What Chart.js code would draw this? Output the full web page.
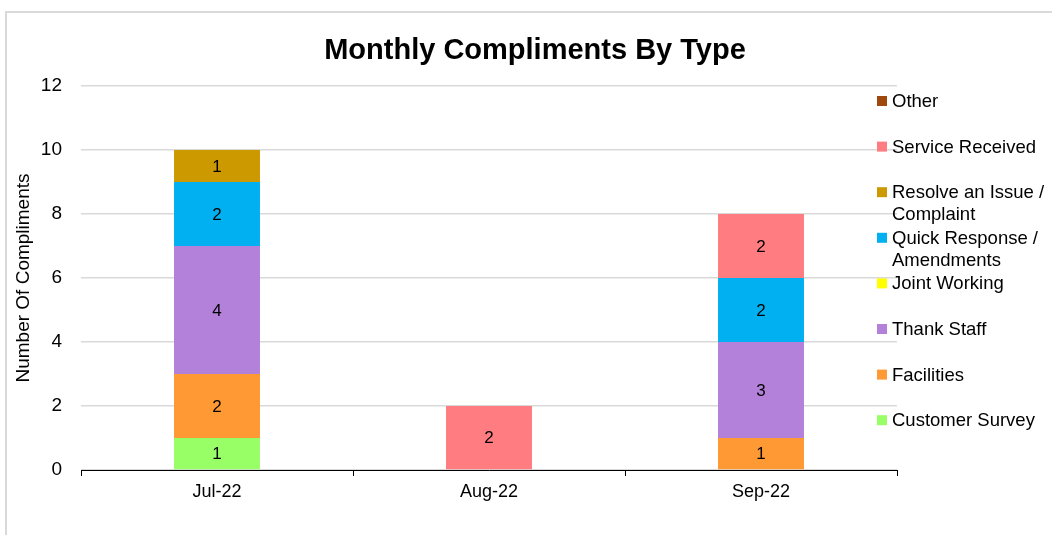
<!DOCTYPE html>
<html>
<head>
<meta charset="utf-8">
<title>Monthly Compliments By Type</title>
<script src="https://cdn.jsdelivr.net/npm/chart.js@4"></script>
<style>
  html, body { margin: 0; padding: 0; background: #fff; overflow: hidden; }
  #frame { position: absolute; left: 5px; top: 11px; width: 1100px; height: 600px; border: 2px solid #d9d9d9; }
  #wrap { position: absolute; left: 0; top: 0; width: 1052px; height: 535px; }
</style>
</head>
<body>
<div id="frame"></div>
<div id="wrap"><canvas id="myChart"></canvas></div>
<script>
// months on the x axis
const months = ["Jul-22", "Aug-22", "Sep-22"];

// one array per compliment type (bottom of the stack first)
const customerSurvey = [1, 0, 0];
const facilities     = [2, 0, 1];
const thankStaff     = [4, 0, 3];
const jointWorking   = [0, 0, 0];
const quickResponse  = [2, 0, 2];
const resolveIssue   = [1, 0, 0];
const serviceRecvd   = [0, 2, 2];
const other          = [0, 0, 0];

const seriesNames = ["Customer Survey", "Facilities", "Thank Staff", "Joint Working",
  "Quick Response / Amendments", "Resolve an Issue / Complaint", "Service Received", "Other"];
const seriesValues = [customerSurvey, facilities, thankStaff, jointWorking,
  quickResponse, resolveIssue, serviceRecvd, other];
const seriesColors = ["#99FF66", "#FF9933", "#B381D9", "#FFFF00",
  "#00B0F0", "#CC9900", "#FF7C80", "#9E480E"];

const yTicks = [0, 2, 4, 6, 8, 10, 12];
const chartTitle = "Monthly Compliments By Type";

const FONT = "'Liberation Sans', Arial, sans-serif";

// title centred on the whole canvas (not just the plot)
const wideTitle = {
  id: "wideTitle",
  afterDraw(chart) {
    const ctx = chart.ctx;
    ctx.save();
    ctx.font = "bold 29px " + FONT;
    ctx.fillStyle = "#000";
    ctx.textAlign = "center";
    ctx.textBaseline = "middle";
    ctx.fillText(chartTitle, 535, 51);
    ctx.restore();
  }
};

// values written in the middle of each segment
const valueLabels = {
  id: "valueLabels",
  afterDatasetsDraw(chart) {
    const ctx = chart.ctx;
    ctx.save();
    ctx.font = "17px " + FONT;
    ctx.fillStyle = "#000";
    ctx.textAlign = "center";
    ctx.textBaseline = "middle";
    chart.data.datasets.forEach((ds, i) => {
      const meta = chart.getDatasetMeta(i);
      meta.data.forEach((bar, j) => {
        const v = ds.data[j];
        if (!v) return;
        const p = bar.getProps(["x", "y", "base"], true);
        ctx.fillText(v, p.x, (p.y + p.base) / 2 + 1);
      });
    });
    ctx.restore();
  }
};

// legend on the right, top item = last series, long names wrapped
const sideLegend = {
  id: "sideLegend",
  afterDraw(chart) {
    const ctx = chart.ctx;
    ctx.save();
    ctx.font = "18.5px " + FONT;
    ctx.textBaseline = "middle";
    ctx.textAlign = "left";
    const n = chart.data.datasets.length;
    let y = 102;
    for (let k = n - 1; k >= 0; k--) {
      const ds = chart.data.datasets[k];
      ctx.fillStyle = ds.backgroundColor;
      ctx.fillRect(877, y - 6, 10, 10);
      ctx.fillStyle = "#000";
      const parts = ds.label.split("/ ");
      if (parts.length > 1) {
        ctx.fillText(parts[0] + "/", 892, y);
        ctx.fillText(parts[1], 892, y + 22);
      } else {
        ctx.fillText(ds.label, 892, y);
      }
      y += 45.6;
    }
    ctx.restore();
  }
};

const chart = new Chart(document.getElementById("myChart"), {
  type: "bar",
  data: {
    labels: months,
    datasets: seriesNames.map((name, i) => ({
      label: name,
      data: seriesValues[i],
      backgroundColor: seriesColors[i],
      borderWidth: 0,
      categoryPercentage: 1,
      barPercentage: 0.316
    }))
  },
  options: {
    responsive: true,
    maintainAspectRatio: false,
    animation: false,
    events: [],
    layout: { padding: { top: 86, right: 155, bottom: 0, left: 0 } },
    plugins: {
      legend: { display: false },
      tooltip: { enabled: false },
      title: { display: false }
    },
    scales: {
      x: {
        stacked: true,
        afterFit(scale) { scale.height = 65; },
        border: { display: true, color: "#000", width: 1 },
        grid: { display: true, drawOnChartArea: false, drawTicks: true, tickLength: 6, color: "#000", offset: true },
        ticks: { color: "#000", font: { family: FONT, size: 18 }, padding: 5 }
      },
      y: {
        stacked: true,
        min: 0,
        max: 12,
        afterFit(scale) { scale.width = 81; },
        afterBuildTicks(scale) { scale.ticks = yTicks.map(v => ({ value: v })); },
        border: { display: false },
        grid: { color: "#d9d9d9", lineWidth: 1.5, drawTicks: false },
        ticks: { color: "#000", font: { family: FONT, size: 19 }, padding: 19 },
        title: {
          display: true,
          text: "Number Of Compliments",
          color: "#000",
          font: { family: FONT, size: 19 },
          padding: { top: 12, bottom: 0 }
        }
      }
    }
  },
  plugins: [valueLabels, sideLegend, wideTitle]
});
</script>
</body>
</html>
